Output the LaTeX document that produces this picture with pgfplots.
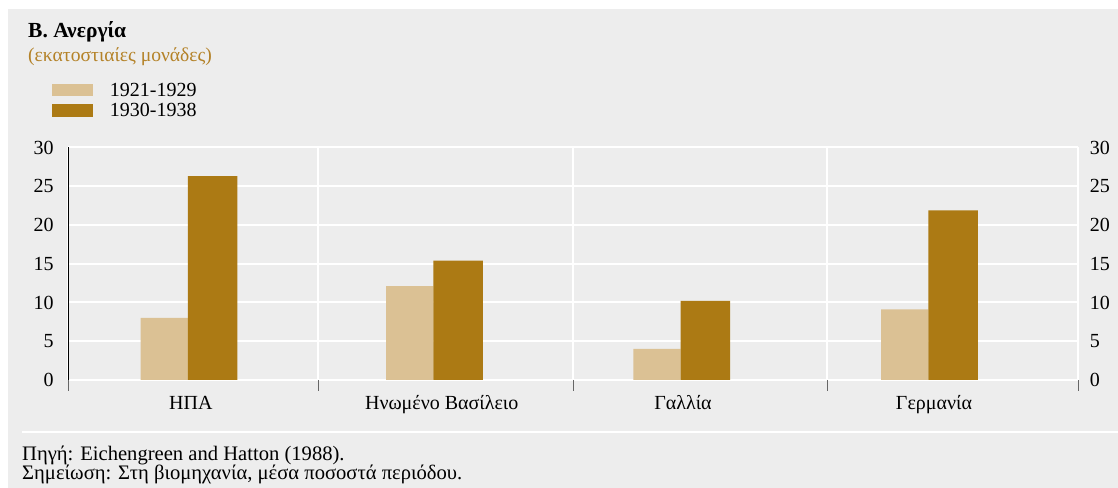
\documentclass[border=0pt]{standalone}
\usepackage{pgfplots}
\pgfplotsset{compat=1.18}
\usepackage{fontspec}
\setmainfont{Liberation Serif}
\definecolor{bg}{RGB}{237,237,237}
\definecolor{lightbar}{RGB}{219,193,148}
\definecolor{darkbar}{RGB}{172,122,20}
\definecolor{gold}{RGB}{180,130,40}
\begin{document}
\fontsize{20bp}{24bp}\selectfont
\begin{tikzpicture}
\useasboundingbox (0,0) rectangle (1118bp,488bp);
\fill[white] (0,0) rectangle (1118bp,488bp);
\fill[bg] (8bp,0) rectangle (1118bp,479bp);
\draw[white, line width=2bp] (22bp,55.5bp) -- (1118bp,55.5bp);
\node[anchor=base west, inner sep=0pt, font=\fontsize{21.5bp}{24bp}\selectfont\bfseries] at (28bp,450.5bp) {Β. Ανεργία};
\node[anchor=base west, inner sep=0pt, text=gold, font=\fontsize{19.6bp}{24bp}\selectfont] at (28bp,426bp) {(εκατοστιαίες μονάδες)};
\node[anchor=north west, inner sep=0pt, align=left, font=\fontsize{20.6bp}{19bp}\selectfont] at (22bp,42bp)
  {Πηγή: Eichengreen and Hatton (1988).\\Σημείωση: Στη βιομηχανία, μέσα ποσοστά περιόδου.};
\begin{axis}[
  at={(68bp,108bp)}, anchor=south west,
  scale only axis, width=1010bp, height=232.5bp,
  xmin=68, xmax=1078, ymin=0, ymax=30,
  axis line style={draw=none},
  ytick={0,5,...,30}, ymajorgrids, xmajorgrids,
  grid style={white, line width=2bp},
  xtick={68,318,573,827,1078}, xticklabels={},
  xtick pos=bottom, ytick pos=left,
  tick align=outside, major tick length=11bp,
  xtick style={black!60, line width=0.6bp},
  ytick style={draw=none},
  /pgf/number format/assume math mode=true,
  yticklabel style={xshift=3.5bp},
  extra x ticks={190.8,441.7,683,934},
  extra x tick labels={ΗΠΑ,Ηνωμένο Βασίλειο,Γαλλία,Γερμανία},
  extra x tick style={grid=none, major tick length=0pt,
    xticklabel style={anchor=base, yshift=-30bp}},
  legend style={draw=none, fill=none, inner sep=0pt, anchor=north west,
    at={(axis description cs:-0.01614,1.2774)},
    nodes={inner sep=0pt, text height=13bp, text depth=0pt, anchor=base west},
    row sep=7.3bp, column sep=17bp},
  legend cell align=left,
]
\addplot[ybar, bar width=47.3, bar shift=0pt, fill=lightbar, draw=none,
  legend image code/.code={\fill[lightbar] (0bp,0bp) rectangle (41bp,12.5bp);}]
  coordinates {(164.2,8.0) (409.7,12.1) (657,4.0) (904.7,9.1)};
\addplot[ybar, bar width=49.5, bar shift=0pt, fill=darkbar, draw=none,
  legend image code/.code={\fill[darkbar] (0bp,0bp) rectangle (41bp,12.5bp);}]
  coordinates {(212.5,26.3) (458,15.4) (705.3,10.2) (953,21.9)};
\legend{1921-1929,1930-1938}
\draw[black, line width=1.4bp] (axis cs:68,0) -- (axis cs:68,30);
\end{axis}
\begin{axis}[
  at={(68bp,108bp)}, anchor=south west,
  scale only axis, width=1010bp, height=232.5bp,
  xmin=68, xmax=1078, ymin=0, ymax=30,
  hide x axis, axis y line*=right, y axis line style={draw=none},
  ytick={0,5,...,30}, ytick style={draw=none},
  yticklabel style={xshift=5bp},
  /pgf/number format/assume math mode=true,
]
\end{axis}
\end{tikzpicture}
\end{document}
